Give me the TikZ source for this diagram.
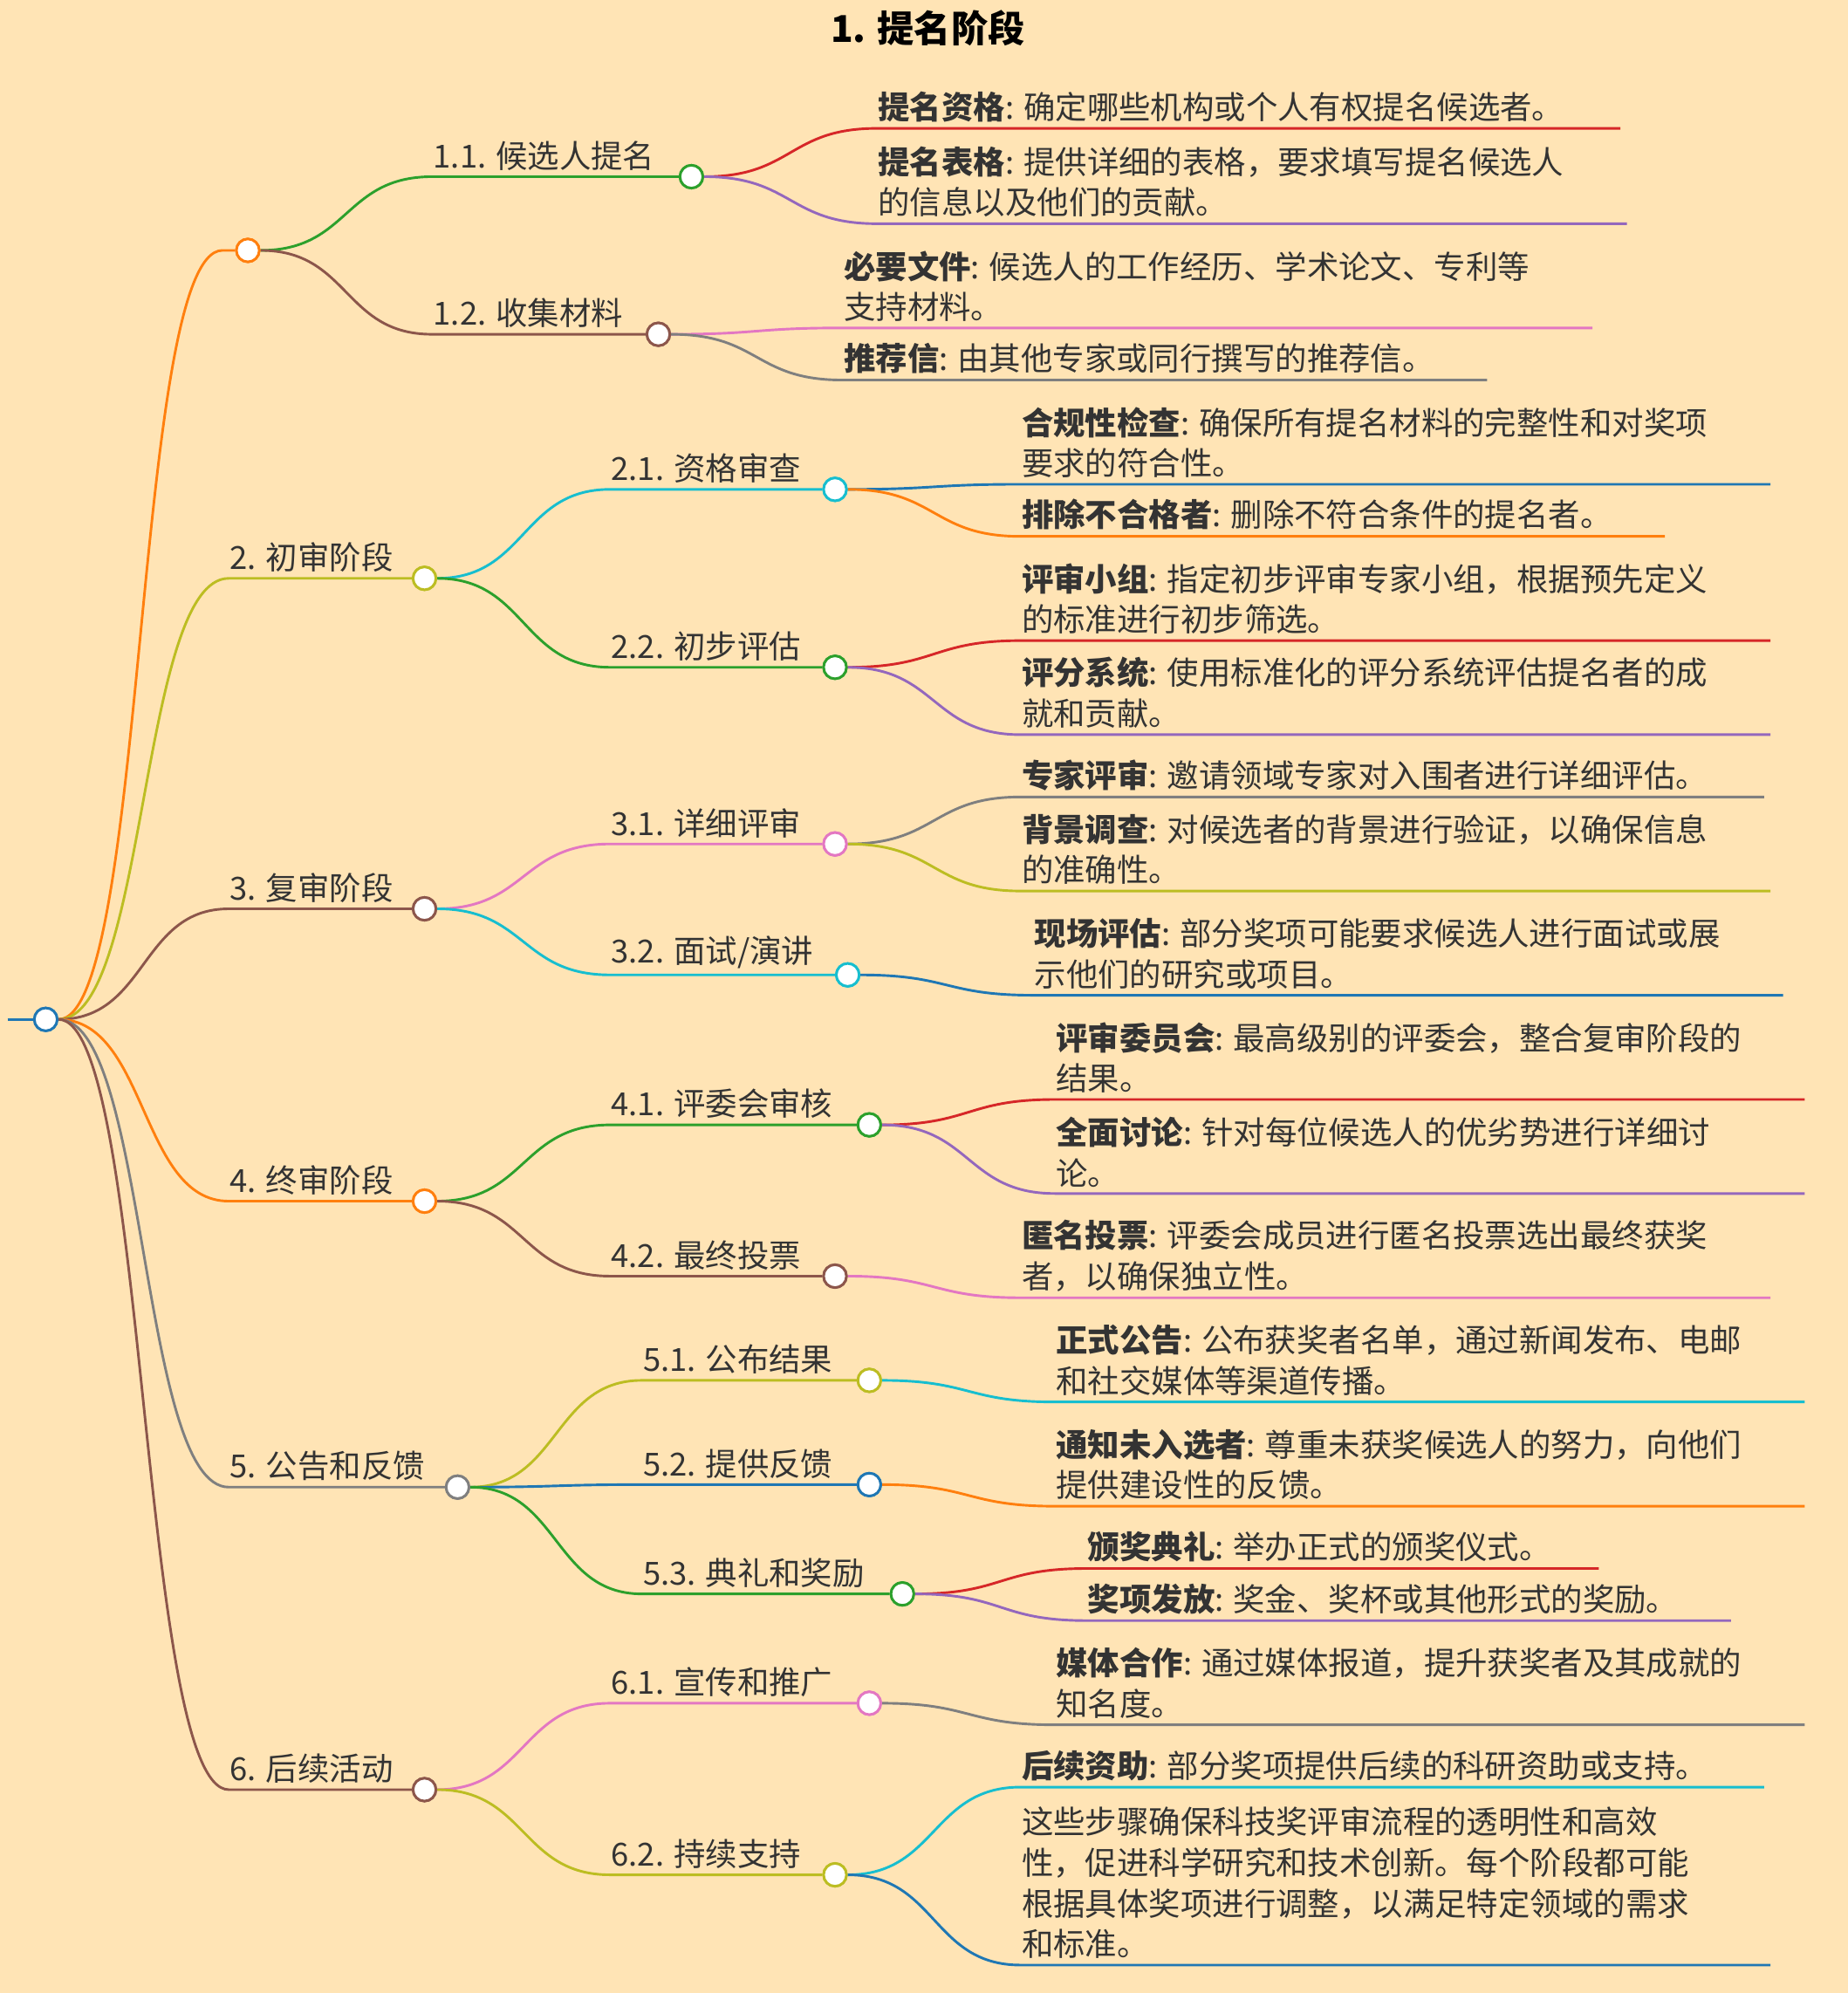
\documentclass[tikz,border=0pt]{standalone}
\usepackage{fontspec}
\setmainfont{Noto Sans CJK SC}
\definecolor{tblue}{HTML}{1F77B4}\definecolor{torange}{HTML}{FF7F0E}
\definecolor{tgreen}{HTML}{2CA02C}\definecolor{tred}{HTML}{D62728}
\definecolor{tpurple}{HTML}{9467BD}\definecolor{tbrown}{HTML}{8C564B}
\definecolor{tpink}{HTML}{E377C2}\definecolor{tgray}{HTML}{7F7F7F}
\definecolor{tolive}{HTML}{BCBD22}\definecolor{tcyan}{HTML}{17BECF}
\definecolor{paper}{HTML}{FFE4B5}\definecolor{ink}{HTML}{333333}
\tikzset{every picture/.style={line width=1pt}}
\tikzset{
  dot/.style={circle,draw,fill=white,line width=1pt,minimum size=9pt,inner sep=0pt},
  lbl/.style={anchor=south west,inner sep=0pt,text=ink,font=\fontsize{12.5}{16}\selectfont,align=left},
  txt/.style={anchor=south west,inner sep=0pt,text=ink,font=\fontsize{12.5}{16}\selectfont,align=left},
}
% branch: colour, from node, to x, to y, end (node or coordinate)
\newcommand\branch[5]{\draw[#1] (#2.east) .. controls +(70,0) and +(-70,0) .. (#3,#4) -- (#5);}
\newcommand\leaf[7]{%
  \coordinate (#3) at (#6,#5);
  \branch{#1}{#2}{#4}{#5}{#3}
  \node[txt] (#3t) at (#4,#5-4) {#7};}
\begin{document}
\begin{tikzpicture}[x=0.5pt,y=0.5pt,yscale=-1]
\fill[paper] (0,0) rectangle (1454,1568);
\useasboundingbox (0,0) rectangle (1454,1568);

% title
\node[font=\bfseries\fontsize{14.5}{16}\selectfont,text=black] (title) at (730,22) {1. 提名阶段};

% root
\node[dot,draw=tblue] (root) at (36,802) {};
\coordinate (rootl) at (6,802);
\draw[tblue] (rootl) -- (root.west);

% level 1
\node[dot,draw=torange] (n1) at (195,197) {};
\node[dot,draw=tolive] (n2) at (334,455) {};
\node[dot,draw=tbrown] (n3) at (334,715) {};
\node[dot,draw=torange] (n4) at (334,945) {};
\node[dot,draw=tgray] (n5) at (360,1170) {};
\node[dot,draw=tbrown] (n6) at (334,1408) {};
\draw[torange] (root.east) .. controls +(70,0) and +(-70,0) .. (175,197) -- (n1.west);
\branch{tolive}{root}{180}{455}{n2.west}
\branch{tbrown}{root}{180}{715}{n3.west}
\branch{torange}{root}{180}{945}{n4.west}
\branch{tgray}{root}{180}{1170}{n5.west}
\branch{tbrown}{root}{180}{1408}{n6.west}
\node[lbl] (l2) at (180,451) {2. 初审阶段};
\node[lbl] (l3) at (180,711) {3. 复审阶段};
\node[lbl] (l4) at (180,941) {4. 终审阶段};
\node[lbl] (l5) at (180,1166) {5. 公告和反馈};
\node[lbl] (l6) at (180,1404) {6. 后续活动};

% level 2
\node[dot,draw=tgreen] (n11) at (544,139) {};
\node[dot,draw=tbrown] (n12) at (518,263) {};
\node[dot,draw=tcyan] (n21) at (657,385) {};
\node[dot,draw=tgreen] (n22) at (657,525) {};
\node[dot,draw=tpink] (n31) at (657,664) {};
\node[dot,draw=tcyan] (n32) at (667,767) {};
\node[dot,draw=tgreen] (n41) at (684,885) {};
\node[dot,draw=tbrown] (n42) at (657,1004) {};
\node[dot,draw=tolive] (n51) at (684,1086) {};
\node[dot,draw=tblue] (n52) at (684,1168) {};
\node[dot,draw=tgreen] (n53) at (710,1254) {};
\node[dot,draw=tpink] (n61) at (684,1340) {};
\node[dot,draw=tolive] (n62) at (657,1475) {};
\branch{tgreen}{n1}{340}{139}{n11.west}
\branch{tbrown}{n1}{340}{263}{n12.west}
\branch{tcyan}{n2}{480}{385}{n21.west}
\branch{tgreen}{n2}{480}{525}{n22.west}
\branch{tpink}{n3}{480}{664}{n31.west}
\branch{tcyan}{n3}{480}{767}{n32.west}
\branch{tgreen}{n4}{480}{885}{n41.west}
\branch{tbrown}{n4}{480}{1004}{n42.west}
\branch{tolive}{n5}{505}{1086}{n51.west}
\branch{tblue}{n5}{505}{1168}{n52.west}
\branch{tgreen}{n5}{505}{1254}{n53.west}
\branch{tpink}{n6}{480}{1340}{n61.west}
\branch{tolive}{n6}{480}{1475}{n62.west}
\node[lbl] (l11) at (340,135) {1.1. 候选人提名};
\node[lbl] (l12) at (340,259) {1.2. 收集材料};
\node[lbl] (l21) at (480,381) {2.1. 资格审查};
\node[lbl] (l22) at (480,521) {2.2. 初步评估};
\node[lbl] (l31) at (480,660) {3.1. 详细评审};
\node[lbl] (l32) at (480,763) {3.2. 面试/演讲};
\node[lbl] (l41) at (480,881) {4.1. 评委会审核};
\node[lbl] (l42) at (480,1000) {4.2. 最终投票};
\node[lbl] (l51) at (505,1082) {5.1. 公布结果};
\node[lbl] (l52) at (505,1164) {5.2. 提供反馈};
\node[lbl] (l53) at (505,1250) {5.3. 典礼和奖励};
\node[lbl] (l61) at (480,1336) {6.1. 宣传和推广};
\node[lbl] (l62) at (480,1471) {6.2. 持续支持};

% leaves
\leaf{tred}{n11}{e111}{690}{101}{1275}{\textbf{提名资格}: 确定哪些机构或个人有权提名候选者。}
\leaf{tpurple}{n11}{e112}{690}{176}{1280}{\textbf{提名表格}: 提供详细的表格，要求填写提名候选人\\的信息以及他们的贡献。}
\leaf{tpink}{n12}{e121}{663}{258}{1253}{\textbf{必要文件}: 候选人的工作经历、学术论文、专利等\\支持材料。}
\leaf{tgray}{n12}{e122}{663}{299}{1170}{\textbf{推荐信}: 由其他专家或同行撰写的推荐信。}
\leaf{tblue}{n21}{e211}{803}{381}{1393}{\textbf{合规性检查}: 确保所有提名材料的完整性和对奖项\\要求的符合性。}
\leaf{torange}{n21}{e212}{803}{422}{1310}{\textbf{排除不合格者}: 删除不符合条件的提名者。}
\leaf{tred}{n22}{e221}{803}{504}{1393}{\textbf{评审小组}: 指定初步评审专家小组，根据预先定义\\的标准进行初步筛选。}
\leaf{tpurple}{n22}{e222}{803}{578}{1393}{\textbf{评分系统}: 使用标准化的评分系统评估提名者的成\\就和贡献。}
\leaf{tgray}{n31}{e311}{803}{627}{1388}{\textbf{专家评审}: 邀请领域专家对入围者进行详细评估。}
\leaf{tolive}{n31}{e312}{803}{701}{1393}{\textbf{背景调查}: 对候选者的背景进行验证，以确保信息\\的准确性。}
\leaf{tblue}{n32}{e321}{813}{783}{1403}{\textbf{现场评估}: 部分奖项可能要求候选人进行面试或展\\示他们的研究或项目。}
\leaf{tred}{n41}{e411}{830}{865}{1420}{\textbf{评审委员会}: 最高级别的评委会，整合复审阶段的\\结果。}
\leaf{tpurple}{n41}{e412}{830}{939}{1420}{\textbf{全面讨论}: 针对每位候选人的优劣势进行详细讨\\论。}
\leaf{tpink}{n42}{e421}{803}{1021}{1393}{\textbf{匿名投票}: 评委会成员进行匿名投票选出最终获奖\\者，以确保独立性。}
\leaf{tcyan}{n51}{e511}{830}{1103}{1420}{\textbf{正式公告}: 公布获奖者名单，通过新闻发布、电邮\\和社交媒体等渠道传播。}
\leaf{torange}{n52}{e521}{830}{1185}{1420}{\textbf{通知未入选者}: 尊重未获奖候选人的努力，向他们\\提供建设性的反馈。}
\leaf{tred}{n53}{e531}{855}{1234}{1258}{\textbf{颁奖典礼}: 举办正式的颁奖仪式。}
\leaf{tpurple}{n53}{e532}{855}{1275}{1362}{\textbf{奖项发放}: 奖金、奖杯或其他形式的奖励。}
\leaf{tgray}{n61}{e611}{830}{1357}{1420}{\textbf{媒体合作}: 通过媒体报道，提升获奖者及其成就的\\知名度。}
\leaf{tcyan}{n62}{e621}{803}{1406}{1388}{\textbf{后续资助}: 部分奖项提供后续的科研资助或支持。}
\leaf{tblue}{n62}{e622}{803}{1546}{1393}{这些步骤确保科技奖评审流程的透明性和高效\\性，促进科学研究和技术创新。每个阶段都可能\\根据具体奖项进行调整，以满足特定领域的需求\\和标准。}

% redraw dots on top
\foreach \n/\c in {root/tblue,n1/torange,n2/tolive,n3/tbrown,n4/torange,n5/tgray,n6/tbrown,
  n11/tgreen,n12/tbrown,n21/tcyan,n22/tgreen,n31/tpink,n32/tcyan,n41/tgreen,n42/tbrown,
  n51/tolive,n52/tblue,n53/tgreen,n61/tpink,n62/tolive}
  \node[dot,draw=\c] at (\n) {};
\end{tikzpicture}
\end{document}
